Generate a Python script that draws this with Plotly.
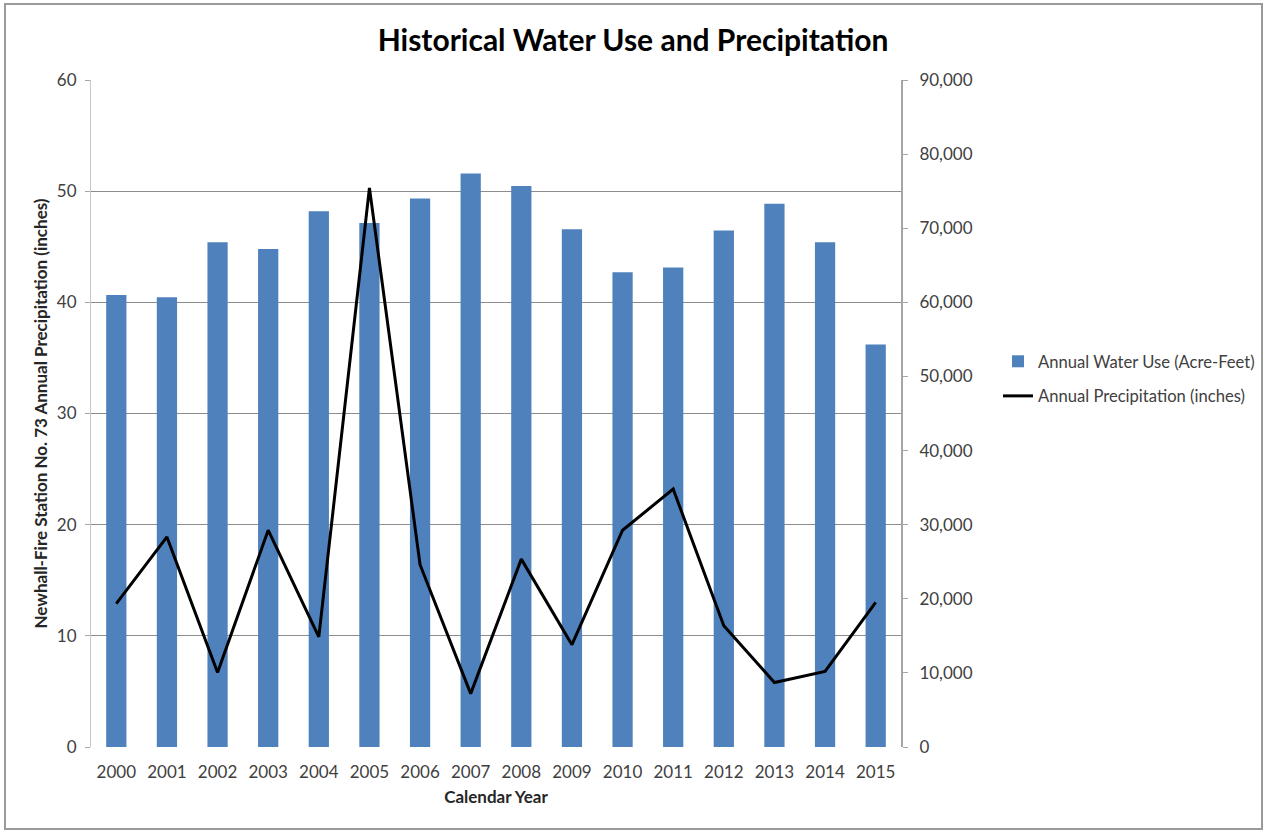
import plotly.graph_objects as go

# Annual series, 2000-2015
years = [str(y) for y in range(2000, 2016)]
water_use_af = [61000, 60700, 68100, 67200, 72300, 70700, 74000, 77400,
                75700, 69850, 64050, 64700, 69700, 73300, 68100, 54300]
precip_in = [12.9, 18.9, 6.7, 19.5, 9.9, 50.3, 16.4, 4.8,
             16.9, 9.2, 19.5, 23.2, 10.9, 5.8, 6.8, 13.0]

left_ticks = [0, 10, 20, 30, 40, 50, 60]
right_ticks = list(range(0, 90001, 10000))

FONT = "Lato, 'Open Sans', sans-serif"
BLUE = "#4F81BD"
GRID = "#8c8c8c"
AXIS = "#a6a6a6"
TICK_FONT = dict(size=17, color="#404040")

# plot-area pixel box, used to place the outer frame in paper coordinates
W, H = 1266, 831
L, R, T, B = 91, 901, 80, 747
pw, ph = R - L, B - T


def px_x(x):
    return (x - L) / pw


def px_y(y):
    return (B - y) / ph


fig = go.Figure()

fig.add_trace(go.Bar(
    x=years, y=water_use_af, name="Annual Water Use (Acre-Feet)",
    marker=dict(color=BLUE, line=dict(width=0)),
    yaxis="y", legendgroup="use",
))

fig.add_trace(go.Scatter(
    x=years, y=precip_in, name="Annual Precipitation (inches)",
    mode="lines", line=dict(color="black", width=3),
    yaxis="y2", legendgroup="precip",
))

fig.update_layout(
    width=W, height=H,
    autosize=False,
    margin=dict(l=L, r=W - R, t=T, b=H - B, autoexpand=False),
    paper_bgcolor="white",
    plot_bgcolor="white",
    font=dict(family=FONT, size=17, color="#404040"),
    bargap=0.6,
    title=dict(
        text="<b>Historical Water Use and Precipitation</b>",
        x=0.5, xref="container", xanchor="center",
        y=1 - 40 / H, yanchor="middle",
        font=dict(family=FONT, size=30, color="black"),
    ),
    xaxis=dict(
        type="category",
        tickfont=TICK_FONT,
        showgrid=False, showline=False, ticks="",
        ticklabelstandoff=13,
        title=dict(text="<b>Calendar Year</b>",
                   font=dict(size=17, color="#262626"), standoff=10),
    ),
    yaxis=dict(
        side="right",
        range=[0, 90000],
        tickvals=right_ticks,
        tickformat=",",
        showgrid=False,
        zeroline=False,
        showline=True, linecolor=AXIS, linewidth=2,
        ticks="outside", ticklen=5, tickcolor=AXIS,
        ticklabelstandoff=8,
        tickfont=TICK_FONT,
    ),
    yaxis2=dict(
        side="left",
        overlaying="y",
        range=[0, 60],
        tickvals=left_ticks,
        showgrid=True, gridcolor=GRID, gridwidth=1,
        zeroline=False,
        showline=True, linecolor="#c8c8c8", linewidth=1,
        ticks="outside", ticklen=5, tickcolor=AXIS,
        ticklabelstandoff=5,
        tickfont=TICK_FONT,
        title=dict(text="<b>Newhall-Fire Station No. 73 Annual Precipitation (inches)</b>",
                   font=dict(size=17, color="#262626"), standoff=4),
    ),
    legend=dict(
        xref="container", yref="container",
        x=998 / W, xanchor="left",
        y=1 - 344 / H, yanchor="top",
        bgcolor="rgba(0,0,0,0)",
        font=dict(size=16.6, color="#404040"),
        traceorder="grouped",
        tracegroupgap=10,
    ),
    showlegend=True,
    shapes=[dict(
        type="rect", xref="paper", yref="paper",
        x0=px_x(5), x1=px_x(1262), y0=px_y(829), y1=px_y(4),
        line=dict(color="#9a9a9a", width=2),
        fillcolor="rgba(0,0,0,0)", layer="below",
    )],
)

fig.write_html("out.html")
